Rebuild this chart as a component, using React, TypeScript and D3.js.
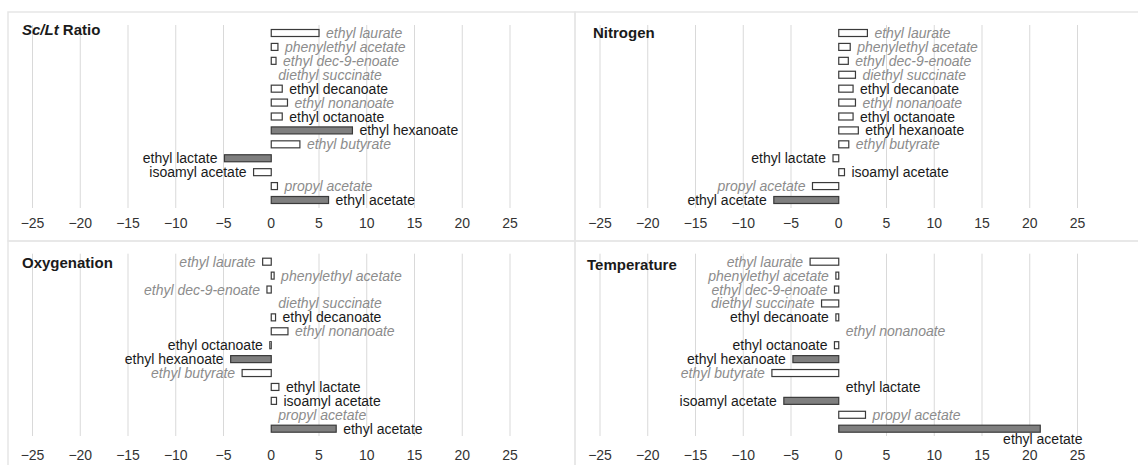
import React from "react";
import * as d3 from "d3";

const categories = [
  "ethyl laurate",
  "phenylethyl acetate",
  "ethyl dec-9-enoate",
  "diethyl succinate",
  "ethyl decanoate",
  "ethyl nonanoate",
  "ethyl octanoate",
  "ethyl hexanoate",
  "ethyl butyrate",
  "ethyl lactate",
  "isoamyl acetate",
  "propyl acetate",
  "ethyl acetate",
];
const italicCategories = [
  "ethyl laurate",
  "phenylethyl acetate",
  "ethyl dec-9-enoate",
  "diethyl succinate",
  "ethyl nonanoate",
  "ethyl butyrate",
  "propyl acetate",
];
const ratioValues = [5.0, 0.7, 0.5, 0, 1.15, 1.7, 1.15, 8.5, 3.0, -4.9, -1.85, 0.65, 6.0];
const ratioFilled = ["ethyl hexanoate", "ethyl lactate", "ethyl acetate"];
const nitrogenValues = [3.0, 1.2, 1.0, 1.75, 1.5, 1.75, 1.5, 2.05, 1.05, -0.6, 0.6, -2.75, -6.8];
const nitrogenFilled = ["ethyl acetate"];
const oxygenValues = [-0.9, 0.3, -0.45, 0, 0.45, 1.75, -0.15, -4.25, -3.05, 0.8, 0.55, 0, 6.8];
const oxygenFilled = ["ethyl hexanoate", "ethyl acetate"];
const temperatureValues = [-3.0, -0.3, -0.45, -1.8, -0.3, 0, -0.45, -4.8, -7.0, 0, -5.75, 2.8, 21.1];
const temperatureFilled = ["ethyl hexanoate", "isoamyl acetate", "ethyl acetate"];
const tickValues = [-25, -20, -15, -10, -5, 0, 5, 10, 15, 20, 25];

const FONT = "'Liberation Sans', Arial, sans-serif";

type PanelDef = {
  key: string;
  values: number[];
  filled: string[];
  ox: number;
  oy: number;
  titleX: number;
  titleY: number;
  tickY: number;
  gridBottom: number;
};

const panels: PanelDef[] = [
  { key: "ratio", values: ratioValues, filled: ratioFilled, ox: 0, oy: 0, titleX: 22, titleY: 29, tickY: 223, gridBottom: 208 },
  { key: "nitrogen", values: nitrogenValues, filled: nitrogenFilled, ox: 567.5, oy: 0, titleX: 593, titleY: 32, tickY: 223, gridBottom: 208 },
  { key: "oxygen", values: oxygenValues, filled: oxygenFilled, ox: 0, oy: 228.7, titleX: 22, titleY: 262, tickY: 455, gridBottom: 436 },
  { key: "temperature", values: temperatureValues, filled: temperatureFilled, ox: 567.5, oy: 228.7, titleX: 587, titleY: 264, tickY: 455, gridBottom: 436 },
];

function Title({ k, x, y }: { k: string; x: number; y: number }) {
  const common = { x, y, fontFamily: FONT, fontSize: 15, fontWeight: 700, fill: "#1a1a1a", dominantBaseline: "central" as const };
  if (k === "ratio")
    return (
      <text {...common}>
        <tspan fontStyle="italic">Sc/Lt</tspan> Ratio
      </text>
    );
  const t = k === "nitrogen" ? "Nitrogen" : k === "oxygen" ? "Oxygenation" : "Temperature";
  return <text {...common}>{t}</text>;
}

function Panel({ p }: { p: PanelDef }) {
  const x = d3.scaleLinear().domain([-25, 25]).range([p.ox + 32.5, p.ox + 510]);
  const y = d3
    .scalePoint<string>()
    .domain(categories)
    .range([p.oy + 33, p.oy + 200]);
  const barH = 7;
  const fmt = d3.format("");
  const gridTop = p.oy + 25;
  const rightEdge = x(25);
  return (
    <g>
      {tickValues
        .filter((t) => t !== 0)
        .map((t) => (
          <line key={"g" + t} x1={x(t)} x2={x(t)} y1={gridTop} y2={p.gridBottom} stroke="#d9d9d9" strokeWidth={1} />
        ))}
      {tickValues.map((t) => (
        <text
          key={"t" + t}
          x={x(t)}
          y={p.tickY}
          textAnchor="middle"
          dominantBaseline="central"
          fontFamily={FONT}
          fontSize={14}
          fill="#333"
        >
          {fmt(t)}
        </text>
      ))}
      <Title k={p.key} x={p.titleX} y={p.titleY} />
      {categories.map((c, i) => {
        const v = p.values[i];
        const cy = y(c) as number;
        const x0 = x(Math.min(0, v));
        const w = Math.abs(x(v) - x(0));
        const italic = italicCategories.includes(c);
        const filled = p.filled.includes(c);
        const labelW = c.length * 7.2;
        let lx: number;
        let ly = cy;
        let anchor: "start" | "end" = "start";
        if (v < 0) {
          lx = x(v) - 7;
          anchor = "end";
        } else {
          lx = x(v) + 7;
          if (lx + labelW > rightEdge + 20) {
            lx = rightEdge + 5;
            anchor = "end";
            ly = cy + 10;
          }
        }
        return (
          <g key={c}>
            {w > 0 && (
              <rect
                x={x0}
                y={cy - barH / 2}
                width={w}
                height={barH}
                fill={filled ? "#7f7f7f" : "#ffffff"}
                stroke="#3a3a3a"
                strokeWidth={1.2}
              />
            )}
            <text
              x={lx}
              y={ly}
              textAnchor={anchor}
              dominantBaseline="central"
              fontFamily={FONT}
              fontSize={14}
              fontStyle={italic ? "italic" : "normal"}
              fill={italic ? "#8c8c8c" : "#1a1a1a"}
            >
              {c}
            </text>
          </g>
        );
      })}
    </g>
  );
}

export default function App() {
  return (
    <svg
      width={1138}
      height={465}
      style={{ position: "absolute", left: 0, top: 0, background: "#fff" }}
    >
      <rect x={0} y={0} width={1138} height={465} fill="#fff" />
      <rect x={8} y={12} width={567} height={229} fill="none" stroke="#e6e6e6" strokeWidth={1.5} />
      <rect x={575} y={12} width={570} height={229} fill="none" stroke="#e6e6e6" strokeWidth={1.5} />
      <rect x={8} y={241} width={567} height={230} fill="none" stroke="#e6e6e6" strokeWidth={1.5} />
      <rect x={575} y={241} width={570} height={230} fill="none" stroke="#e6e6e6" strokeWidth={1.5} />
      {panels.map((p) => (
        <Panel key={p.key} p={p} />
      ))}
    </svg>
  );
}
